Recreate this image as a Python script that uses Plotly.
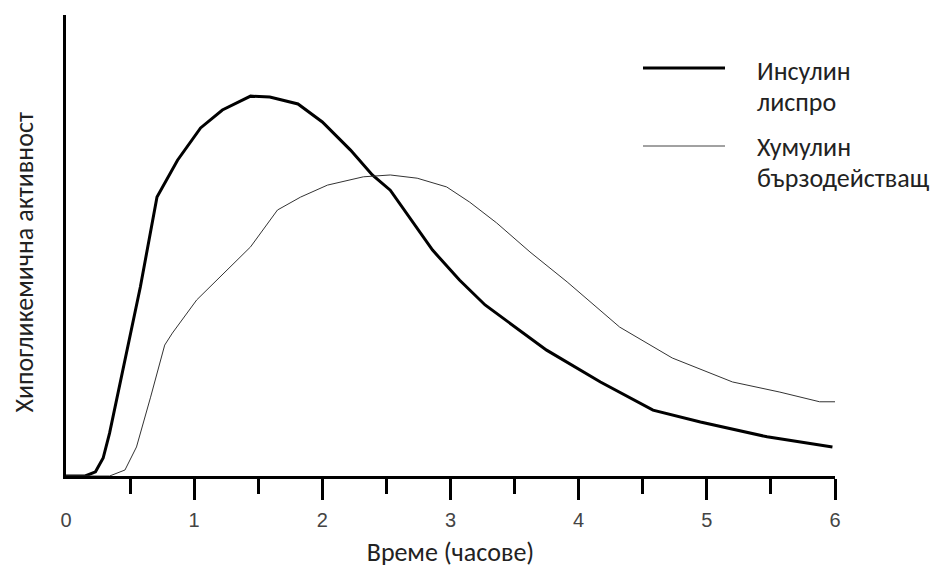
import plotly.graph_objects as go

# Time (hours) and hypoglycemic activity (arbitrary units, 0-100)
lispro_t = [0.0, 0.15, 0.23, 0.29, 0.34, 0.58, 0.71, 0.87, 1.05, 1.22, 1.44, 1.59, 1.81, 2.00,
            2.22, 2.39, 2.53, 2.68, 2.86, 3.07, 3.27, 3.75, 4.17, 4.58, 4.95, 5.47, 5.98]
lispro_y = [0.0, 0.0, 0.9, 3.9, 9.3, 41.0, 60.5, 68.5, 75.5, 79.4, 82.4, 82.2, 80.7, 76.8,
            70.7, 65.3, 62.0, 56.2, 49.0, 42.5, 37.1, 27.3, 20.4, 14.3, 11.7, 8.5, 6.3]

humulin_t = [0.0, 0.34, 0.46, 0.55, 0.66, 0.77, 0.83, 1.02, 1.44, 1.65, 1.83, 2.04, 2.32, 2.53,
             2.74, 2.97, 3.15, 3.36, 3.62, 3.91, 4.32, 4.73, 5.20, 5.57, 5.88, 6.00]
humulin_y = [0.0, 0.0, 1.3, 6.3, 17.1, 28.4, 31.0, 38.2, 49.7, 57.7, 60.5, 63.1, 64.9, 65.3,
             64.6, 62.7, 59.4, 54.9, 48.6, 42.1, 32.3, 25.6, 20.4, 18.2, 16.1, 16.1]

tick_vals = [0, 1, 2, 3, 4, 5, 6]
tick_text = ["0", "1", "2", "3", "4", "5", "6"]
minor_vals = [0.5, 1.5, 2.5, 3.5, 4.5, 5.5]

series_names = ["Инсулин лиспро", "Хумулин бързодействащ"]
legend_lines = [["Инсулин", "лиспро"], ["Хумулин", "бързодействащ"]]
x_title = "Време (часове)"
y_title = "Хипогликемична активност"

text_font = "Carlito, Lato, Open Sans, sans-serif"
tick_font = "Liberation Sans, Arial, sans-serif"

fig = go.Figure()
fig.add_trace(go.Scatter(x=lispro_t, y=lispro_y, mode="lines", name=series_names[0],
                         line=dict(color="#000000", width=3), cliponaxis=False))
fig.add_trace(go.Scatter(x=humulin_t, y=humulin_y, mode="lines", name=series_names[1],
                         line=dict(color="#333333", width=1), cliponaxis=False))
# invisible trace carrying the tick labels on an overlay axis
fig.add_trace(go.Scatter(x=[0, 6], y=[0, 0], mode="lines", xaxis="x2",
                         line=dict(width=0), hoverinfo="skip", showlegend=False))

# page has an 8px body margin, so the figure is drawn slightly smaller
fig.update_layout(
    width=931, height=561,
    margin=dict(l=58, r=104, t=7, b=93),
    paper_bgcolor="white", plot_bgcolor="white",
    showlegend=False,
    xaxis=dict(range=[0, 6], showgrid=False, zeroline=False,
               showline=True, linecolor="black", linewidth=3,
               tickmode="array", tickvals=tick_vals[1:], ticks="outside",
               ticklen=21, tickwidth=3, tickcolor="black", showticklabels=False,
               minor=dict(tickmode="array", tickvals=minor_vals, ticks="outside",
                          ticklen=15, tickwidth=3, tickcolor="black"),
               title=dict(text=x_title, font=dict(family=text_font, size=26, color="#222222"),
                          standoff=44)),
    xaxis2=dict(range=[0, 6], overlaying="x", side="bottom", showgrid=False, zeroline=False,
                showline=False, tickmode="array", tickvals=tick_vals, ticktext=tick_text,
                ticks="outside", ticklen=26, tickcolor="rgba(0,0,0,0)",
                tickfont=dict(family=tick_font, size=20, color="#444444")),
    yaxis=dict(range=[0, 100], showgrid=False, zeroline=False, showticklabels=False,
               showline=True, linecolor="black", linewidth=3, ticks=""),
)

# y-axis title
fig.add_annotation(text=y_title, xref="paper", yref="paper", x=-0.054, y=(476 - 262) / 461,
                   textangle=-90, showarrow=False, xanchor="center", yanchor="middle",
                   font=dict(family=text_font, size=26, color="#222222"))

# legend keys and labels
key_styles = [dict(color="#000000", width=3), dict(color="#444444", width=1)]
key_y = [(476 - 68) / 461, (476 - 146) / 461]
label_y = [[(476 - 71) / 461, (476 - 102) / 461], [(476 - 147) / 461, (476 - 178) / 461]]
for i in range(2):
    fig.add_shape(type="line", xref="paper", yref="paper",
                  x0=(643 - 66) / 769, x1=(725 - 66) / 769, y0=key_y[i], y1=key_y[i],
                  line=key_styles[i])
    for j, line_text in enumerate(legend_lines[i]):
        fig.add_annotation(text=line_text, xref="paper", yref="paper",
                           x=(755 - 66) / 769, y=label_y[i][j],
                           xanchor="left", yanchor="middle", showarrow=False,
                           font=dict(family=text_font, size=26, color="#222222"))

fig.write_html("out.html")
